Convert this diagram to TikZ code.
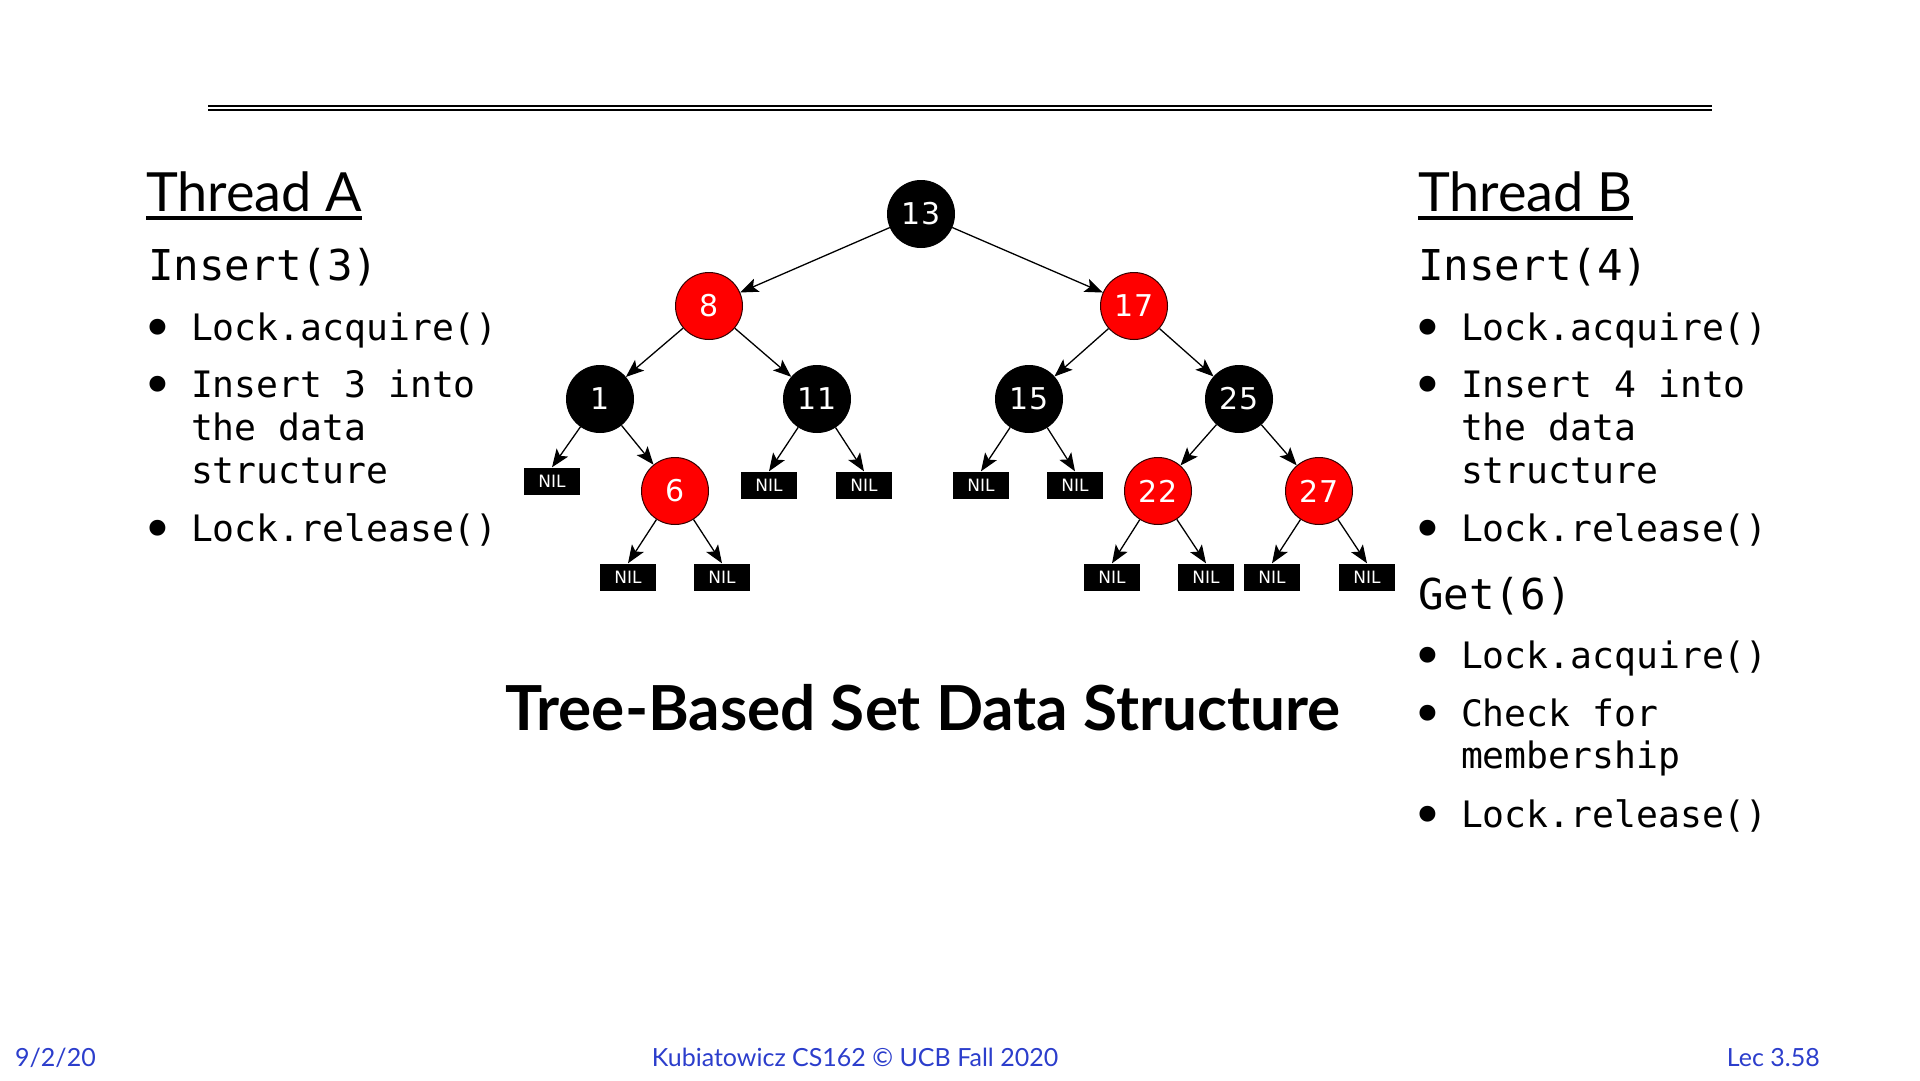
\documentclass[tikz,border=0pt]{standalone}
\usepackage{fontspec}
\setmainfont{Lato}
\setmonofont{DejaVu Sans Mono}
\newfontfamily\treefont{DejaVu Sans}
\usetikzlibrary{arrows.meta}
\definecolor{footblue}{RGB}{44,62,204}
\definecolor{rbred}{RGB}{255,0,0}

% larger list bullet, one monospace cell wide
\newcommand{\listdot}{\makebox[0.602em][c]{\scalebox{1.5}{\raisebox{-0.13em}{•}}}}

\tikzset{
  rbnode/.style={circle, minimum size=67pt, inner sep=0pt, draw=black, line width=1pt,
    text=white, font=\treefont\fontsize{30}{30}\selectfont},
  blk/.style={rbnode, fill=black},
  rd/.style={rbnode, fill=rbred, draw=black!80!rbred},
  nil/.style={rectangle, minimum width=56pt, minimum height=27pt, inner sep=0pt,
    fill=black, text=white, font=\treefont\fontsize{17}{17}\selectfont},
  arr/.style={-{Stealth[length=18pt,width=14pt,inset=4pt]}, line width=1.3pt},
  heading/.style={anchor=base west, inner sep=0pt, font=\fontsize{54}{60}\selectfont},
  callhead/.style={anchor=base west, inner sep=0pt, font=\ttfamily\fontsize{42.5}{48}\selectfont},
  item/.style={anchor=base west, inner sep=0pt, font=\ttfamily\fontsize{36.4}{43}\selectfont},
  foot/.style={anchor=base, inner sep=0pt, text=footblue, font=\fontsize{25}{28}\selectfont},
}

\begin{document}
\begin{tikzpicture}[x=1pt, y=-1pt]
  \useasboundingbox (0,0) rectangle (1920,1080);
  \fill[white] (0,0) rectangle (1920,1080);

  % header rule
  \coordinate (ruleL) at (208,105.8);
  \coordinate (ruleR) at (1712,105.8);
  \draw[line width=2.5pt] (ruleL) -- (ruleR);
  \draw[line width=2.5pt] ([yshift=-4pt]ruleL) -- ([yshift=-4pt]ruleR);

  % Thread A
  \node[heading] (tA) at (146,211) {Thread A};
  \draw[line width=4pt] ([yshift=-6.5pt]tA.base west) -- ([yshift=-6.5pt]tA.base east);
  \node[callhead] (aIns) at (148,280) {Insert(3)};
  \node[item] (a1) at (147,340) {\listdot~Lock.acquire()};
  \node[item] (a2) at (147,397) {\listdot~Insert~3~into};
  \node[item] (a3) at (147,440) {\hphantom{\listdot~}the~data};
  \node[item] (a4) at (147,483) {\hphantom{\listdot~}structure};
  \node[item] (a5) at (147,541) {\listdot~Lock.release()};

  % Thread B
  \node[heading] (tB) at (1418,211) {Thread B};
  \draw[line width=4pt] ([yshift=-6.5pt]tB.base west) -- ([yshift=-6.5pt]tB.base east);
  \node[callhead] (bIns) at (1418,280) {Insert(4)};
  \node[item] (b1) at (1417,340) {\listdot~Lock.acquire()};
  \node[item] (b2) at (1417,397) {\listdot~Insert~4~into};
  \node[item] (b3) at (1417,440) {\hphantom{\listdot~}the~data};
  \node[item] (b4) at (1417,483) {\hphantom{\listdot~}structure};
  \node[item] (b5) at (1417,541) {\listdot~Lock.release()};
  \node[callhead] (bGet) at (1418,609) {Get(6)};
  \node[item] (b6) at (1417,668) {\listdot~Lock.acquire()};
  \node[item] (b7) at (1417,726) {\listdot~Check~for};
  \node[item] (b8) at (1417,768) {\hphantom{\listdot~}membership};
  \node[item] (b9) at (1417,827) {\listdot~Lock.release()};

  % red-black tree
  \node[blk] (n13) at (921,214) {13};
  \node[rd]  (n8)  at (709,306) {8};
  \node[rd]  (n17) at (1134,306) {17};
  \node[blk] (n1)  at (600,399) {1};
  \node[blk] (n11) at (817,399) {11};
  \node[blk] (n15) at (1029,399) {15};
  \node[blk] (n25) at (1239,399) {25};
  \node[rd]  (n6)  at (675,491) {6};
  \node[rd]  (n22) at (1158,491) {22};
  \node[rd]  (n27) at (1319,491) {27};

  \node[nil] (z1a)  at (552,481) {NIL};
  \node[nil] (z11a) at (769,485) {NIL};
  \node[nil] (z11b) at (864,485) {NIL};
  \node[nil] (z15a) at (981,485) {NIL};
  \node[nil] (z15b) at (1075,485) {NIL};
  \node[nil] (z6a)  at (628,577) {NIL};
  \node[nil] (z6b)  at (722,577) {NIL};
  \node[nil] (z22a) at (1112,577) {NIL};
  \node[nil] (z22b) at (1206,577) {NIL};
  \node[nil] (z27a) at (1272,577) {NIL};
  \node[nil] (z27b) at (1367,577) {NIL};

  \draw[arr] (n13) -- (n8);
  \draw[arr] (n13) -- (n17);
  \draw[arr] (n8) -- (n1);
  \draw[arr] (n8) -- (n11);
  \draw[arr] (n17) -- (n15);
  \draw[arr] (n17) -- (n25);
  \draw[arr] (n1) -- (z1a.north);
  \draw[arr] (n1) -- (n6);
  \draw[arr] (n11) -- (z11a.north);
  \draw[arr] (n11) -- (z11b.north);
  \draw[arr] (n15) -- (z15a.north);
  \draw[arr] (n15) -- (z15b.north);
  \draw[arr] (n25) -- (n22);
  \draw[arr] (n25) -- (n27);
  \draw[arr] (n6) -- (z6a.north);
  \draw[arr] (n6) -- (z6b.north);
  \draw[arr] (n22) -- (z22a.north);
  \draw[arr] (n22) -- (z22b.north);
  \draw[arr] (n27) -- (z27a.north);
  \draw[arr] (n27) -- (z27b.north);

  % caption
  \node[anchor=base, inner sep=0pt] (cap) at (923,730)
    {\resizebox{835pt}{!}{\bfseries\fontsize{54}{60}\selectfont Tree-Based Set Data Structure}};

  % footer
  \node[foot, anchor=base west] (fdate) at (15,1066) {9/2/20};
  \node[foot] (fmid) at (855,1066) {Kubiatowicz CS162 © UCB Fall 2020};
  \node[foot, anchor=base east] (flec) at (1820,1066) {Lec 3.58};
\end{tikzpicture}
\end{document}
